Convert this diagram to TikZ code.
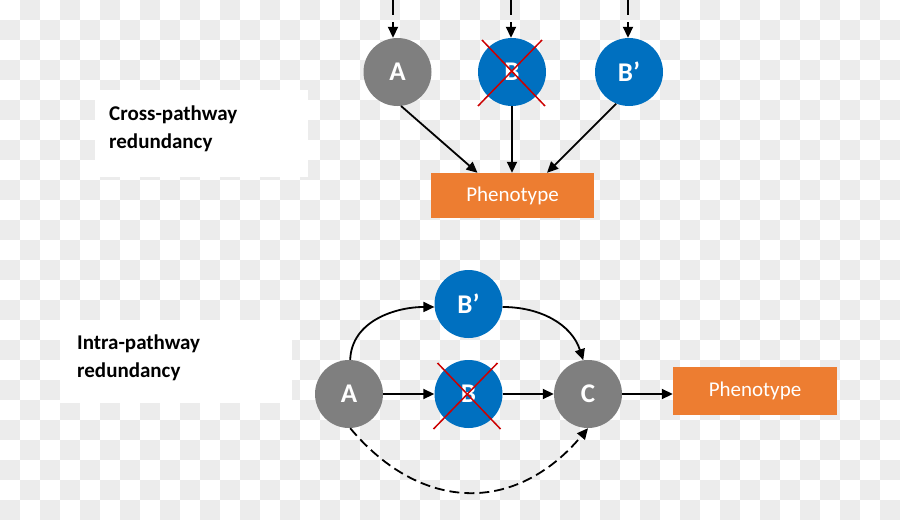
\documentclass[tikz,border=0pt]{standalone}
\usepackage{fontspec}
\setmainfont{Carlito}
\usetikzlibrary{arrows.meta}
\definecolor{checkgray}{RGB}{236,236,236}
\definecolor{cgray}{RGB}{127,127,127}
\definecolor{cblue}{RGB}{0,112,192}
\definecolor{corange}{RGB}{237,125,49}
\definecolor{cred}{RGB}{204,0,0}
\tikzset{
  circ/.style={circle, minimum size=68pt, inner sep=0pt, text=white, font=\fontsize{27}{30}\selectfont\bfseries},
  grayc/.style={circ, fill=cgray},
  bluec/.style={circ, fill=cblue},
  phen/.style={fill=corange, text=white, inner sep=0pt, font=\fontsize{21}{24}\selectfont},
  lbl/.style={anchor=base west, inner sep=0pt, font=\fontsize{21}{24}\selectfont\bfseries},
  arr/.style={line width=1.8pt, -{Triangle[length=11pt,width=10pt]}},
  darr/.style={arr, dash pattern=on 10pt off 5pt},
  tarr/.style={arr, dash pattern=on 16pt off 7pt},
  redx/.style={cred, line width=1.5pt}
}
\begin{document}
\begin{tikzpicture}[x=1pt,y=-1pt]
\useasboundingbox (0,0) rectangle (900,520);
% checkerboard background
\foreach \i in {0,...,44} {
  \foreach \j in {0,...,25} {
    \pgfmathtruncatemacro{\parity}{mod(\i+\j,2)}
    \ifnum\parity=1
      \fill[checkgray] (\i*20,\j*20) rectangle ++(20,20);
    \fi
  }
}
% label boxes
\fill[white] (95,90) rectangle (308,177);
\fill[white] (60,320) rectangle (292,403);
\node[lbl] (c1) at (109,120) {Cross-pathway};
\node[lbl] (c2) at (109,148) {redundancy};
\node[lbl] (i1) at (77,349) {Intra-pathway};
\node[lbl] (i2) at (77,377) {redundancy};

% ---- top: cross-pathway ----
\node[grayc] (A) at (397.5,72) {A};
\node[bluec] (B) at (512,72) {B};
\node[bluec] (Bp) at (629,72) {B’};
\node[phen, minimum width=163pt, minimum height=45pt] (P) at (512.5,195.5) {Phenotype};
\draw[redx] ([shift={(-30,-32)}]B.center) -- ([shift={(33,34)}]B.center);
\draw[redx] ([shift={(30,-32)}]B.center) -- ([shift={(-34,34)}]B.center);

\coordinate (ta) at (393,-1);
\coordinate (tb) at (511,-1);
\coordinate (tc) at (628,-1);
\draw[tarr] (ta) -- (ta |- A.north);
\draw[tarr] (tb) -- (tb |- B.north);
\draw[tarr] (tc) -- (tc |- Bp.north);

\draw[arr] (A.-84) -- ([xshift=-35pt]P.north);
\draw[arr] (B.south) -- (B.south |- P.north);
\draw[arr] (Bp.-112) -- ([xshift=34.5pt]P.north);

% ---- bottom: intra-pathway ----
\node[grayc] (A2) at (349,394) {A};
\node[bluec] (B2) at (468.5,394) {B};
\node[bluec] (Bp2) at (468.5,304) {B’};
\node[grayc] (C) at (588,394) {C};
\node[phen, minimum width=164pt, minimum height=48pt] (P2) at (755,391) {Phenotype};
\draw[redx] ([shift={(-31,-31)}]B2.center) -- ([shift={(32,35)}]B2.center);
\draw[redx] ([shift={(29,-31)}]B2.center) -- ([shift={(-35,35)}]B2.center);

\draw[arr] (A2.east) -- (B2.west);
\draw[arr] (B2.east) -- (C.west);
\draw[arr] (C.east) -- (C.east -| P2.west);
\draw[arr] (A2.88) to[out=88,in=180] (Bp2.185);
\draw[arr] (Bp2.-5) to[out=0,in=108] (C.98);
\draw[darr] (A2.-88) to[out=-50,in=-130,looseness=1.2] (C.-90);
\end{tikzpicture}
\end{document}
